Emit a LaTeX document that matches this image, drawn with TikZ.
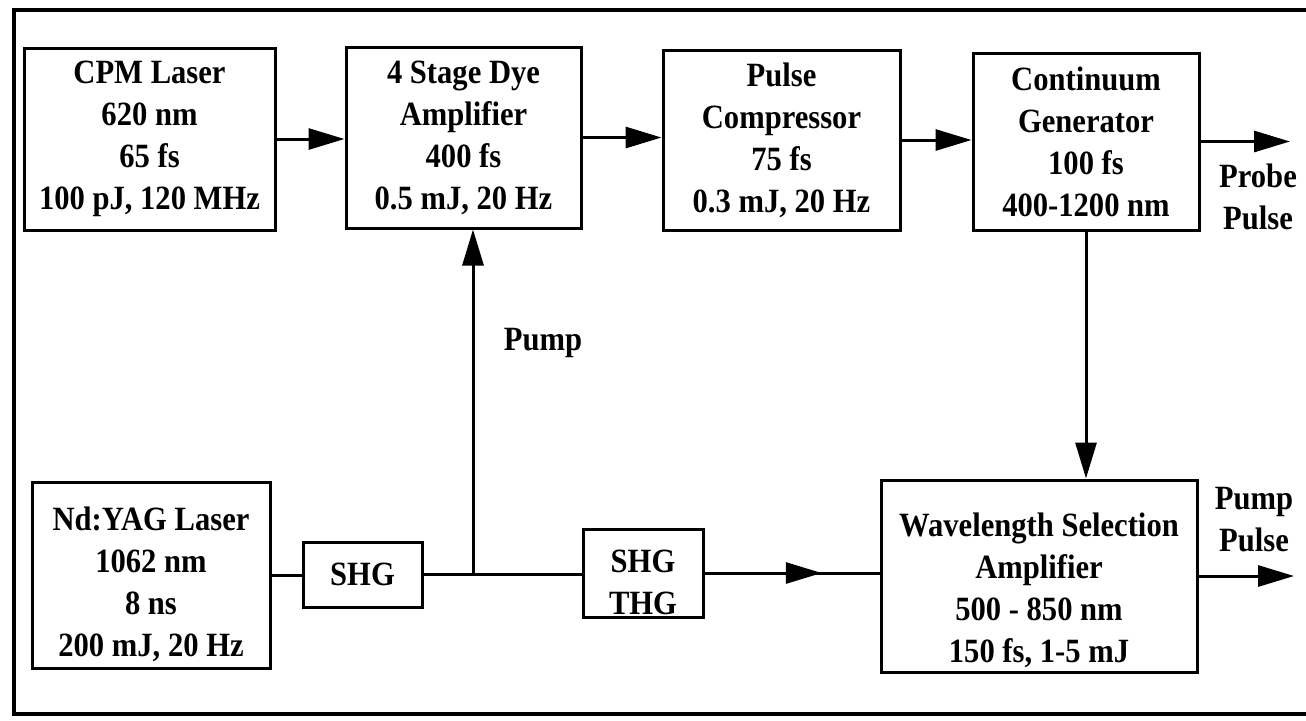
\documentclass[tikz,border=0pt]{standalone}
\usepackage{fontspec}
\setmainfont{Liberation Serif}[FakeStretch=0.9]
\usetikzlibrary{arrows.meta,decorations.markings}
\begin{document}
\begin{tikzpicture}[x=0.5pt,y=-0.5pt,
  lab/.style={font=\fontsize{17}{21}\selectfont\bfseries},
  box/.style={draw,line width=1.5pt,inner sep=0pt,align=center,lab},
  txt/.style={inner sep=0pt,align=center,lab},
  conn/.style={line width=1.5pt},
  tip/.style={-{Triangle[length=18pt,width=10.5pt]}},
  arr/.style={conn,tip},
  midarr/.style={conn,postaction={decorate},decoration={markings,
    mark=at position 0.67 with {\arrow{Triangle[length=18pt,width=10.5pt]}}}}
]
\useasboundingbox (0,0) rectangle (1306,720);
% frame
\draw[line width=1.7pt] (1306,10) -- (14,10) -- (14,714) -- (1306,714);

% top row
\node[box,minimum width=125.5pt,minimum height=91pt] (cpm) at (149.5,139)
  {CPM Laser\\620 nm\\65 fs\\100 pJ, 120 MHz};
\node[box,minimum width=117.5pt,minimum height=90.5pt] (dye) at (463.5,137.5)
  {4 Stage Dye\\Amplifier\\400 fs\\0.5 mJ, 20 Hz};
\node[box,minimum width=118.5pt,minimum height=90pt] (pc) at (781.5,140)
  {Pulse\\Compressor\\75 fs\\0.3 mJ, 20 Hz};
\node[box,minimum width=113pt,minimum height=88.5pt] (cg) at (1086,141.5)
  {Continuum\\Generator\\100 fs\\400-1200 nm};

% bottom row
\node[box,minimum width=119pt,minimum height=93pt] (nd) at (151,575) {};
\node[txt,yshift=-4.5pt] (ndt) at (nd.center)
  {Nd:YAG Laser\\1062 nm\\8 ns\\200 mJ, 20 Hz};
\node[box,minimum width=59.5pt,minimum height=32.5pt] (shg) at (362.5,574.5) {SHG};
\node[box,minimum width=60pt,minimum height=44pt] (st) at (643,573) {};
\node[txt,yshift=-4.5pt] (stt) at (st.center) {SHG\\THG};
\node[box,minimum width=158pt,minimum height=96pt] (ws) at (1039,576) {};
\node[txt,yshift=-7pt] (wst) at (ws.center)
  {Wavelength Selection\\Amplifier\\500 - 850 nm\\150 fs, 1-5 mJ};

% labels
\node[txt] (pumplab) at (543,343) {Pump};
\node[txt] (probelab) at (1258,197) {Probe\\Pulse};
\node[txt] (pumppulse) at (1254,520) {Pump\\Pulse};

% connectors
\coordinate (probe) at (1290,141.5);
\coordinate (pumpout) at (1294,576);
\draw[arr] (cpm.east) -- (cpm.east -| dye.west);
\draw[arr] (dye.east) -- (dye.east -| pc.west);
\draw[arr] (pc.east) -- (pc.east -| cg.west);
\draw[arr] (cg.east) -- (probe);
\draw[conn] (nd.east) -- (nd.east -| shg.west);
\draw[conn] (shg.east) -- (shg.east -| st.west);
\coordinate (j) at (473,574.5);
\draw[arr] (j) -- (j |- dye.south);
\draw[midarr] (st.east) -- (st.east -| ws.west);
\draw[arr] (ws.east) -- (pumpout);
\draw[arr] (cg.south) -- (cg.south |- ws.north);
\end{tikzpicture}
\end{document}
